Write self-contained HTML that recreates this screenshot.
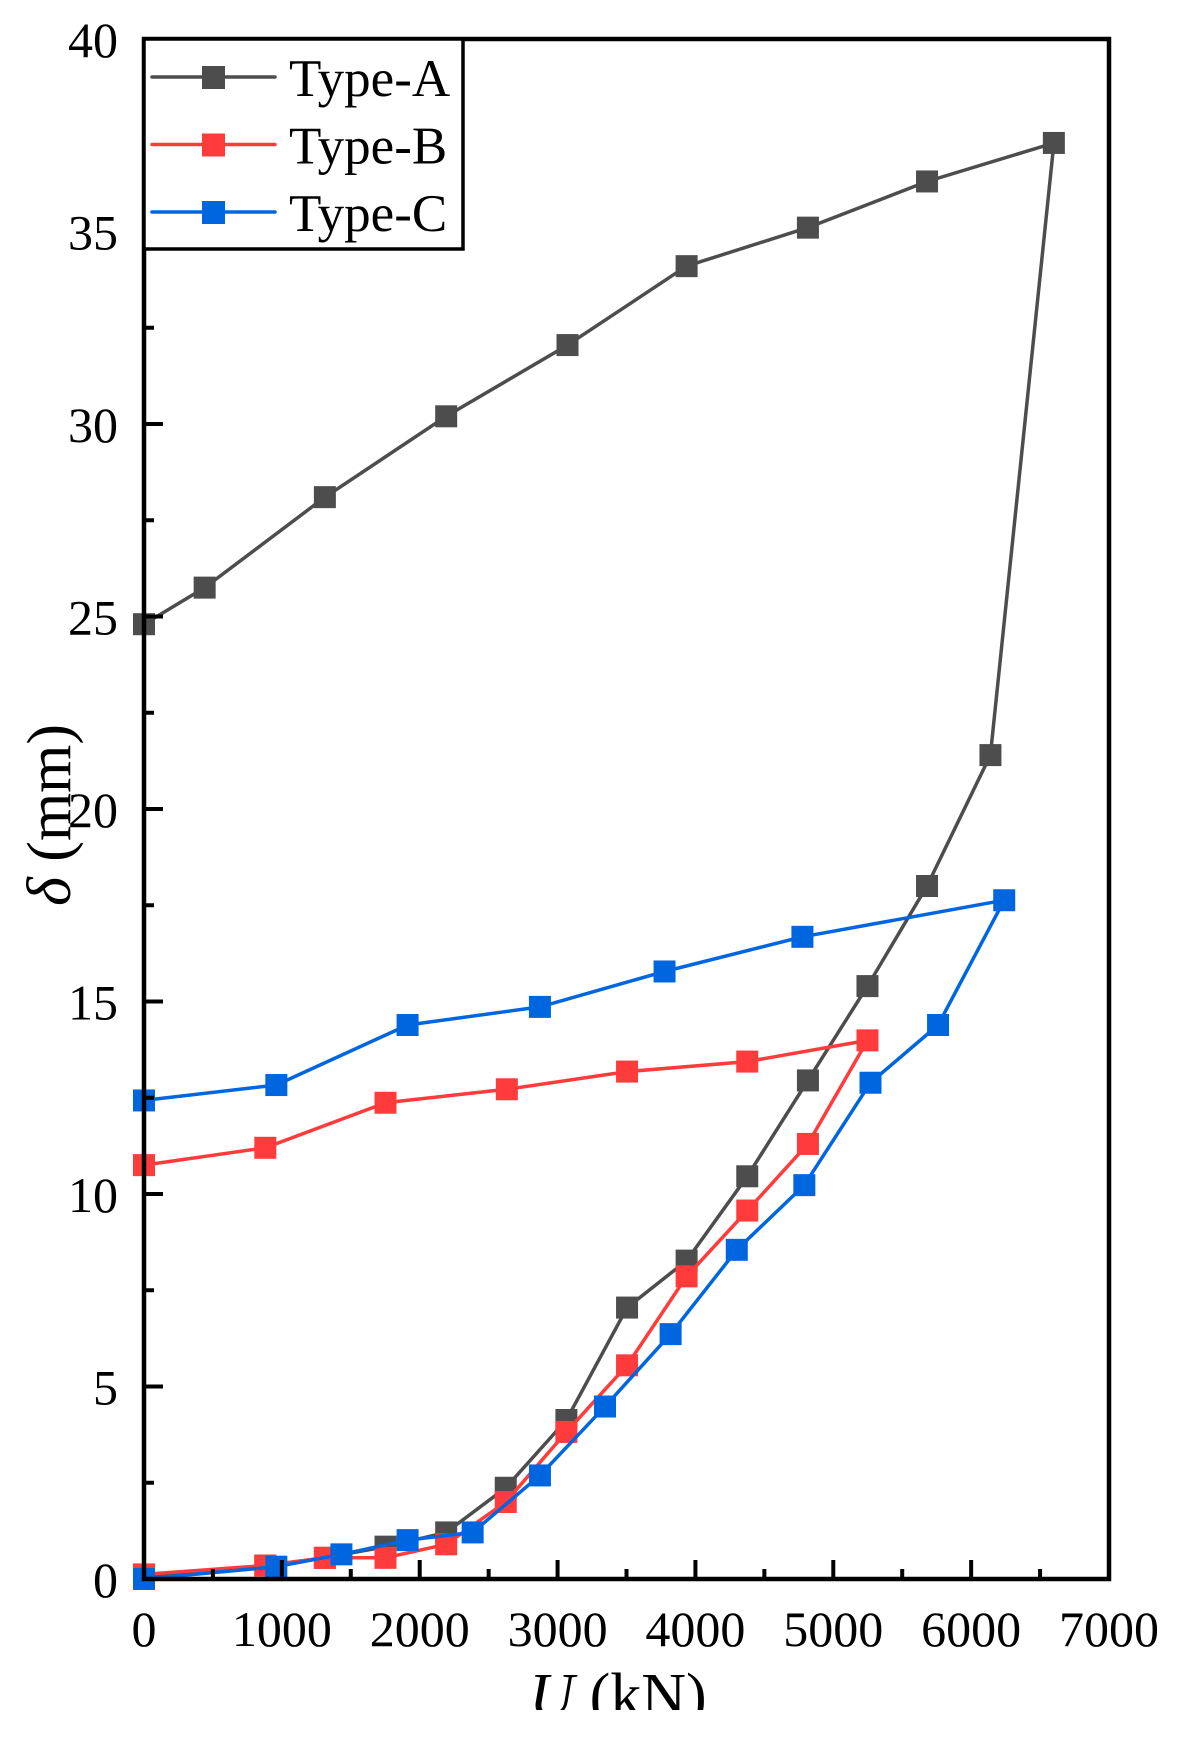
<!DOCTYPE html>
<html><head><meta charset="utf-8"><style>
html,body{margin:0;padding:0;background:#fff;}
svg{display:block;}
text{font-family:"Liberation Serif",serif;fill:#000;}
</style></head><body>
<svg id="chart" width="1187" height="1742" viewBox="0 0 1187 1742" xmlns="http://www.w3.org/2000/svg">
<g id="marks"></g>
<g id="axes"></g>
</svg>
<script>
const xTicks = [0,1000,2000,3000,4000,5000,6000,7000];
const yTicks = [0,5,10,15,20,25,30,35,40];
const seriesNames = ["Type-A","Type-B","Type-C"];
const seriesColors = ["#4d4d4d","#ff3b3b","#0066e0"];
const aX = [0,440,1312,2192,3072,3936,4816,5680,6600,6140,5680,5248,4816,4376,3936,3504,3064,2624,2192,1752,1312,880,0];
const aY = [24.8,25.75,28.1,30.2,32.05,34.1,35.1,36.3,37.3,21.4,18.0,15.4,12.95,10.46,8.27,7.05,4.13,2.37,1.21,0.84,0.55,0.35,0.05];
const bX = [0,880,1752,2632,3504,4376,5248,4816,4376,3936,3504,3064,2624,2192,1752,1312,880,0];
const bY = [10.75,11.2,12.37,12.72,13.18,13.44,13.99,11.3,9.57,7.86,5.55,3.82,2.0,0.9,0.55,0.55,0.35,0.12];
const cX = [0,960,1912,2872,3776,4776,6240,5760,5270,4790,4300,3820,3344,2872,2384,1912,1432,960,0];
const cY = [12.43,12.83,14.39,14.86,15.78,16.68,17.63,14.39,12.89,10.23,8.55,6.36,4.48,2.69,1.21,1.01,0.64,0.32,0.0];

const NS = "http://www.w3.org/2000/svg";
const L=144, R=1109, T=39, B=1579;
const xS = v => L + v/7000*(R-L);
const yS = v => B - v/40*(B-T);
function mk(tag, attrs, parent){const e=document.createElementNS(NS,tag);for(const k in attrs)e.setAttribute(k,attrs[k]);parent.appendChild(e);return e;}
const marks=document.getElementById('marks'), axes=document.getElementById('axes');
const data=[[aX,aY],[bX,bY],[cX,cY]];
data.forEach((d,i)=>{
  const g=mk('g',{},marks);
  
  
  const pts=d[0].map((x,j)=>xS(x).toFixed(1)+','+yS(d[1][j]).toFixed(1)).join(' ');
  const pl=mk('polyline',{points:pts,fill:'none',stroke:seriesColors[i],'stroke-width':3.5,'stroke-linejoin':'round'},g);
  
  
  d[0].forEach((x,j)=>{
    const r=mk('rect',{x:xS(x)-11,y:yS(d[1][j])-11,width:22,height:22,fill:seriesColors[i]},g);
    
    
  });
});
// frame
const fr=mk('rect',{x:L,y:T,width:R-L,height:B-T,fill:'none',stroke:'#000','stroke-width':4.5},axes);


// x ticks
xTicks.forEach((v,i)=>{
  mk('line',{x1:xS(v),x2:xS(v),y1:B,y2:B-19,stroke:'#000','stroke-width':4},axes);
  if(i<xTicks.length-1) mk('line',{x1:xS(v+500),x2:xS(v+500),y1:B,y2:B-10,stroke:'#000','stroke-width':4},axes);
  const t=mk('text',{x:xS(v),y:B+67,'text-anchor':'middle','font-size':50},axes);
  t.textContent=v;
  
  
});
yTicks.forEach((v,i)=>{
  mk('line',{x1:L,x2:L+19,y1:yS(v),y2:yS(v),stroke:'#000','stroke-width':4},axes);
  if(i<yTicks.length-1) mk('line',{x1:L,x2:L+10,y1:yS(v+2.5),y2:yS(v+2.5),stroke:'#000','stroke-width':4},axes);
  const t=mk('text',{x:118,y:yS(v)+18,'text-anchor':'end','font-size':50},axes);
  t.textContent=v;
  
  
});
// axis titles
const xt=mk('text',{x:618,y:1716,'text-anchor':'middle','font-size':62},axes);
xt.innerHTML='<tspan font-style="italic">U</tspan> (kN)';


const cover=mk('rect',{x:0,y:1710,width:1187,height:32,fill:'#fff'},axes);


const yt=mk('text',{x:0,y:0,'text-anchor':'middle','font-size':62,transform:'translate(70,815) rotate(-90)'},axes);
yt.innerHTML='<tspan font-style="italic">δ</tspan> (mm)';


// legend
const lg=mk('g',{},axes);


mk('rect',{x:L,y:T,width:319,height:210,fill:'#fff',stroke:'#000','stroke-width':3.5},lg);
seriesNames.forEach((n,i)=>{
  const y=77+i*67.5;
  const e=mk('g',{},lg);
  
  
  mk('line',{x1:152,x2:275,y1:y,y2:y,stroke:seriesColors[i],'stroke-width':3.5,'stroke-linecap':'round'},e);
  mk('rect',{x:202,y:y-11,width:23,height:23,fill:seriesColors[i]},e);
  const t=mk('text',{x:289,y:y+19,'font-size':53},e);
  t.textContent=n;
});
</script>
</body></html>
